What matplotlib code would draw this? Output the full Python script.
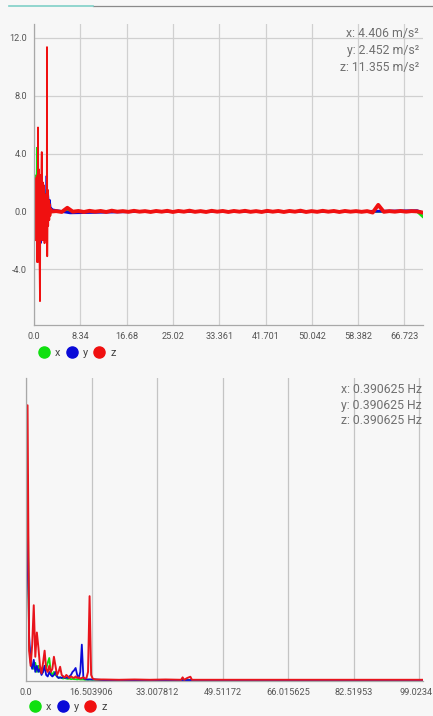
import numpy as np
import matplotlib
matplotlib.use('Agg')
import matplotlib.pyplot as plt
from matplotlib.lines import Line2D
from matplotlib import transforms

plt.rcParams['font.family'] = ['Roboto', 'DejaVu Sans']

GREEN = '#10e010'
BLUE = '#0a0ad8'
RED = '#f01010'
BG = '#f7f7f7'

# accelerometer, first seconds (burst)
burst_z_t = [0.00, 0.10, 0.18, 0.28, 0.36, 0.45, 0.55, 0.62, 0.70, 0.72, 0.80, 0.90, 1.00,
             1.08, 1.15, 1.25, 1.35, 1.40, 1.50, 1.60, 1.70, 1.80, 1.90, 2.00, 2.10, 2.20,
             2.30, 2.34, 2.38, 2.45, 2.55, 2.65, 2.75, 2.85, 2.95, 3.05, 3.20, 3.40]
burst_z = [0.5, 2.2, -1.0, 2.3, -2.0, 1.8, -3.5, 2.5, -3.5, 5.8, -2.5, 2.9, -3.3,
           -6.2, 2.5, -1.5, 3.0, 4.1, -2.0, 2.0, -1.0, 1.8, -2.2, 1.2, -1.8, 1.0,
           -2.0, 11.355, -3.1, 1.5, -1.0, 0.8, -0.6, 0.5, -0.3, 0.2, 0.1, 0.0]

burst_y_t = [0.0, 0.15, 0.3, 0.45, 0.6, 0.75, 0.9, 1.05, 1.2, 1.35, 1.5, 1.65, 1.8,
             1.95, 2.1, 2.25, 2.4, 2.55, 2.7, 2.85, 3.0, 3.2, 3.4]
burst_y = [-1.2, 1.0, -1.0, 0.5, -0.8, 1.5, -1.2, 0.8, -2.2, 1.0, -1.5, 0.6, -2.0,
           1.2, -0.8, 2.452, -1.0, 1.2, 0.5, 0.8, 0.3, 0.2, 0.1]

burst_x_t = [0.0, 0.2, 0.4, 0.55, 0.7, 0.9, 1.1, 1.3, 1.5, 1.7, 1.9, 2.1, 2.3, 2.5,
             2.7, 2.9, 3.1, 3.4]
burst_x = [1.0, 2.5, -0.5, 4.406, -1.0, 2.5, 0.5, -1.5, 2.0, -0.8, 1.5, -1.0, 1.0, -0.5,
           0.6, -0.3, 0.2, 0.0]

# rest of the recording, one value per second
tail_z_t = np.arange(4, 71)
tail_z = [0.02, -0.04, 0.25, -0.02, 0.03, -0.04, 0.04, -0.02, 0.03, -0.04, 0.05, -0.02,
          0.02, -0.03, 0.04, -0.02, 0.02, -0.04, 0.03, -0.02, 0.04, -0.04, 0.03, -0.02,
          0.05, -0.03, 0.02, -0.04, 0.04, -0.02, 0.03, -0.04, 0.03, -0.02, 0.04, -0.03,
          0.02, -0.04, 0.04, -0.02, 0.03, -0.04, 0.03, -0.02, 0.05, -0.04, 0.02, -0.03,
          0.04, -0.02, 0.03, -0.04, 0.03, -0.02, 0.02, -0.03, 0.02, -0.08, 0.45, -0.03,
          0.02, -0.02, 0.03, -0.02, 0.02, 0.0, -0.08]
tail_y_t = [3.4, 6.5, 20, 40, 60, 69, 70]
tail_y = [0.1, -0.1, 0.0, 0.0, 0.0, 0.05, -0.1]
tail_x_t = [3.4, 30, 69, 70]
tail_x = [0.0, 0.0, 0.0, -0.35]

acc_ticks = ['0.0', '8.34', '16.68', '25.02', '33.361', '41.701', '50.042', '58.382', '66.723']
acc_yticks = [-4.0, 0.0, 4.0, 8.0, 12.0]
acc_text = ['x: 4.406 m/s²', 'y: 2.452 m/s²', 'z: 11.355 m/s²']

# spectrum, 0.390625 Hz bins
bin_hz = 0.390625
spec_bins = list(range(46)) + [50, 60, 70, 80, 90, 100, 101, 102, 104, 106, 107, 110, 130,
                               160, 200, 230, 256]
spec_x = [0.20, 0.68, 0.12, 0.07, 0.05, 0.04, 0.06, 0.03, 0.05, 0.03, 0.04, 0.03, 0.05,
          0.04, 0.06, 0.076, 0.03, 0.02, 0.03, 0.02, 0.015, 0.01, 0.012, 0.01, 0.008,
          0.01, 0.008, 0.007, 0.008, 0.006, 0.007, 0.006, 0.006, 0.005, 0.006, 0.005,
          0.005, 0.005, 0.004, 0.005, 0.004, 0.005, 0.004, 0.004, 0.004, 0.004,
          0.003, 0.003, 0.003, 0.003, 0.003, 0.003, 0.003, 0.003, 0.003, 0.003, 0.003,
          0.003, 0.003, 0.003, 0.003, 0.003, 0.003]
spec_y = [0.25, 0.55, 0.15, 0.06, 0.04, 0.07, 0.03, 0.05, 0.03, 0.04, 0.02, 0.03, 0.05,
          0.02, 0.015, 0.03, 0.02, 0.015, 0.02, 0.03, 0.015, 0.01, 0.012, 0.01, 0.015,
          0.01, 0.012, 0.01, 0.015, 0.02, 0.03, 0.035, 0.043, 0.02, 0.01, 0.03, 0.12,
          0.01, 0.006, 0.005, 0.005, 0.005, 0.005, 0.005, 0.005, 0.005,
          0.003, 0.003, 0.003, 0.003, 0.003, 0.003, 0.003, 0.003, 0.003, 0.003, 0.003,
          0.003, 0.003, 0.003, 0.003, 0.003, 0.003]
spec_z = [0.30, 0.91, 0.10, 0.05, 0.12, 0.25, 0.08, 0.16, 0.11, 0.05, 0.025, 0.06, 0.10,
          0.04, 0.03, 0.05, 0.03, 0.04, 0.08, 0.05, 0.02, 0.03, 0.047, 0.02, 0.015,
          0.012, 0.02, 0.015, 0.01, 0.015, 0.012, 0.01, 0.015, 0.01, 0.012, 0.008, 0.01,
          0.012, 0.008, 0.01, 0.03, 0.28, 0.02, 0.008, 0.006, 0.005,
          0.005, 0.004, 0.005, 0.004, 0.005, 0.004, 0.012, 0.004, 0.01, 0.014, 0.004,
          0.004, 0.004, 0.004, 0.004, 0.004, 0.004]
spec_ticks = ['0.0', '16.503906', '33.007812', '49.51172', '66.015625', '82.51953', '99.0234']
spec_text = ['x: 0.390625 Hz', 'y: 0.390625 Hz', 'z: 0.390625 Hz']

W, H = 433, 716
fig = plt.figure(figsize=(W / 100, H / 100), dpi=100, facecolor=BG)


def fx(px):
    return px / W


def fy(py):
    return 1 - py / H


# tab indicator strip at the very top
fig.add_artist(Line2D([fx(93), fx(433)], [fy(6), fy(6)], color='#8a8a8a', lw=0.9))
fig.add_artist(Line2D([fx(9), fx(93)], [fy(6), fy(6)], color='#7fd0c8', lw=1.2))


def style_axes(ax):
    ax.set_facecolor(BG)
    for s in ['top', 'right']:
        ax.spines[s].set_visible(False)
    for s in ['left', 'bottom']:
        ax.spines[s].set_color('#a8a8a8')
        ax.spines[s].set_linewidth(0.9)
    ax.tick_params(length=0, labelsize=6.6, labelcolor='#555555', pad=5)


def add_legend(ax, x0, y0):
    handles = [Line2D([], [], marker='o', ls='', markersize=8, color=c, label=l)
               for c, l in [(GREEN, 'x'), (BLUE, 'y'), (RED, 'z')]]
    fig.legend(handles=handles, loc='center left', bbox_to_anchor=(fx(x0), fy(y0)),
               ncol=3, frameon=False, fontsize=7.8, handletextpad=0.42,
               columnspacing=0.45, borderpad=0, borderaxespad=0, handlelength=1.2,
               labelcolor='#444444')


# accelerometer chart
ax1 = fig.add_axes([fx(34), fy(325), fx(423) - fx(34), fy(24) - fy(325)])
style_axes(ax1)
ax1.plot(burst_x_t, burst_x, color=GREEN, lw=1.2)
ax1.plot(tail_x_t, tail_x, color=GREEN, lw=2.0)
ax1.plot(burst_y_t, burst_y, color=BLUE, lw=1.2)
ax1.plot(tail_y_t, tail_y, color=BLUE, lw=2.0)
ax1.plot(burst_z_t, burst_z, color=RED, lw=1.3)
ax1.plot([burst_z_t[-1]] + list(tail_z_t), [burst_z[-1]] + tail_z, color=RED, lw=2.8)
ax1.set_xlim(0, 70.06)
ax1.set_ylim(-7.85, 12.95)
ax1.set_xticks([float(t) for t in acc_ticks])
ax1.set_xticklabels(acc_ticks)
ax1.set_yticks(acc_yticks)
ax1.set_yticklabels(['%.1f' % v for v in acc_yticks])
ax1.grid(True, color='#d0d0d0', lw=0.9)
ax1.set_axisbelow(True)
for i, s in enumerate(acc_text):
    fig.text(fx(419), fy(33 + 17.5 * i), s, ha='right', va='center', fontsize=8.8,
             color='#707070')
add_legend(ax1, 37.5, 353)

# spectrum chart
ax2 = fig.add_axes([fx(26), fy(681), fx(423) - fx(26), fy(378) - fy(681)])
style_axes(ax2)
freqs = [b * bin_hz for b in spec_bins]
ax2.plot(freqs, spec_x, color=GREEN, lw=1.3)
ax2.plot(freqs, spec_y, color=BLUE, lw=1.3)
ax2.plot(freqs, spec_z, color='#e8141c', lw=1.4)
ax2.set_xlim(0, 100)
ax2.set_ylim(0, 1.0)
ax2.set_xticks([float(t) for t in spec_ticks])
ax2.set_xticklabels(spec_ticks)
ax2.set_yticks([])
ax2.xaxis.grid(True, color='#c4c4c4', lw=0.9)
ax2.set_axisbelow(True)
# last frequency label sits flush against the right edge
last = ax2.get_xticklabels()[-1]
last.set_ha('right')
last.set_transform(last.get_transform() + transforms.ScaledTranslation(0.13, 0, fig.dpi_scale_trans))
for i, s in enumerate(spec_text):
    fig.text(fx(422), fy(389 + 16 * i), s, ha='right', va='center', fontsize=8.8,
             color='#707070')
add_legend(ax2, 28.5, 707)

fig.savefig('out.png', dpi=100, facecolor=BG)
